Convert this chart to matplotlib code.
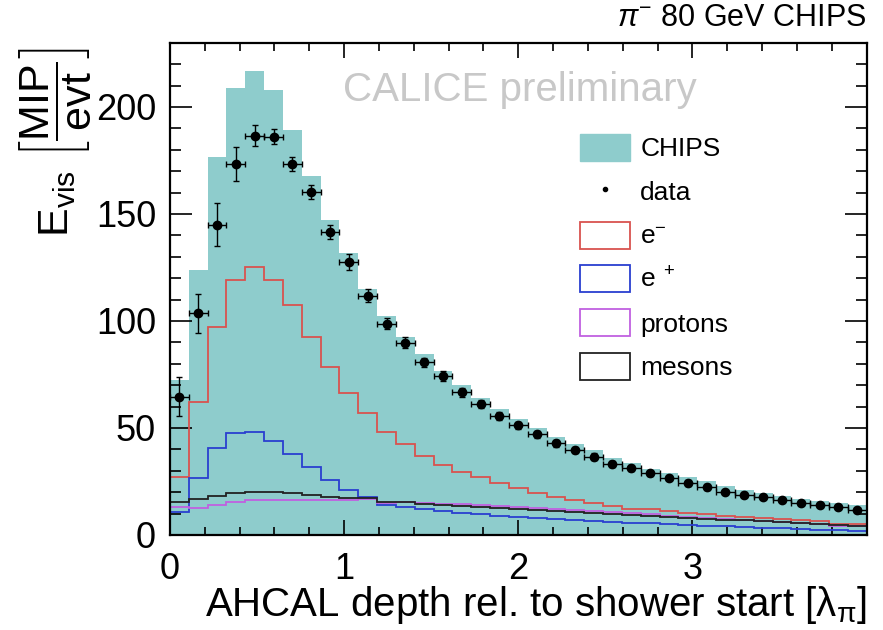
import numpy as np
import matplotlib
matplotlib.use("Agg")
import matplotlib.pyplot as plt
from matplotlib.patches import Patch
from matplotlib.lines import Line2D
from matplotlib.ticker import MultipleLocator

plt.rcParams['font.family'] = ['Liberation Sans', 'DejaVu Sans']
plt.rcParams['mathtext.fontset'] = 'custom'
plt.rcParams['mathtext.rm'] = 'Liberation Sans'
plt.rcParams['mathtext.it'] = 'Liberation Sans:italic'
plt.rcParams['mathtext.bf'] = 'Liberation Sans:bold'

# ---- data ----
n_bins = 37
x_max = 4.0

chips = [72.4, 124, 176.4, 209, 217, 207.8, 189.4, 167.6, 147, 131.8, 115, 102.5,
         92.6, 84.5, 76.5, 70, 64, 59, 54, 50, 46, 42.5, 39.5, 36, 33.5, 31,
         29, 27, 25, 23, 21, 19.5, 18, 16.8, 15.8, 14.8, 14]

data = [64.6, 103.5, 144.9, 173.4, 186.6, 186, 173.4, 160.2, 141.5, 127.5, 111.7, 98.7,
        89.8, 80.6, 74.2, 66.6, 61.2, 55.7, 51.2, 47, 42.8, 39.8, 36.6, 33.2, 31.1, 28.8,
        26.8, 24.3, 22.4, 20.1, 18.8, 17.6, 16.2, 15.1, 14, 12.9, 11.7]

data_err = [9, 9.3, 10, 7.8, 4.8, 3.5, 3.3, 3.1, 3.4, 3.7, 3, 2.6, 2.5, 2.3, 2.2, 2, 2,
            1.9, 1.8, 1.7, 1.6, 1.5, 1.5, 1.4, 1.4, 1.3, 1.3, 1.2, 1.2, 1.1, 1.1, 1.0,
            1.0, 1.0, 0.9, 0.9, 0.9]

electrons = [27.2, 62.2, 97, 119, 125.3, 119, 107.4, 92.6, 78.6, 66.5, 56.8, 48.2,
             42.5, 36.9, 32.7, 29.6, 26.9, 24.1, 21.8, 19.8, 17.9, 16.3, 14.8, 13.5,
             12.3, 12, 11, 10.2, 9.6, 9, 8.6, 8, 7.5, 7, 6.5, 5.2, 5]

positrons = [10.9, 26.5, 40.8, 47.5, 48, 44, 37.7, 31.6, 25.7, 21.2, 17.6, 14,
             13, 12, 11, 10.3, 9.6, 9, 8.4, 7.9, 7.4, 7, 6.6, 6.2, 5.8, 5.4, 5,
             4.6, 4.3, 4, 3.7, 3.4, 3.1, 2.8, 2.5, 2.2, 2]

protons = [12.9, 12.5, 14, 15.5, 16.2, 16.4, 16.4, 16.4, 16.2, 16.2, 16.7, 15.1,
           15.3, 15, 14.7, 14.3, 13.9, 13.5, 13.1, 12.6, 12.1, 11.6, 11.1, 10.6,
           10.1, 9.6, 9.1, 8.6, 8.1, 7.6, 7.1, 6.6, 6.1, 5.6, 5.1, 4.3, 4]

mesons = [15.5, 16.8, 18.2, 19.6, 19.9, 19.9, 19.5, 18.7, 17.9, 17.4, 17.1, 15.6,
          15.2, 14.7, 14.2, 13.7, 13.2, 12.7, 12.2, 11.7, 11.2, 10.7, 10.2, 9.7,
          9.2, 8.8, 8.4, 8, 7.6, 7.2, 6.8, 6.4, 6, 5.6, 5.2, 4.6, 4.2]

x_ticks = [0, 1, 2, 3]
y_ticks = [0, 50, 100, 150, 200]

edges = np.linspace(0, x_max, n_bins + 1)
centers = 0.5 * (edges[:-1] + edges[1:])
half_w = 0.5 * (edges[1] - edges[0])

# ---- styling ----
c_chips = '#8ecccc'
c_red = '#d9534f'
c_blue = '#2a3fd0'
c_purple = '#c060e0'
c_black = '#222222'

fig = plt.figure(figsize=(8.83, 6.30), dpi=100)
ax = fig.add_axes([0.1925, 0.1508, 0.789, 0.7814])

ax.stairs(chips, edges, fill=True, color=c_chips, linewidth=0, zorder=1)
ax.stairs(electrons, edges, color=c_red, linewidth=1.3, zorder=2)
ax.stairs(positrons, edges, color=c_blue, linewidth=1.3, zorder=2)
ax.stairs(protons, edges, color=c_purple, linewidth=1.3, zorder=2)
ax.stairs(mesons, edges, color=c_black, linewidth=1.3, zorder=2)

ax.errorbar(centers, data, yerr=data_err, xerr=half_w, fmt='o', color='black',
            markersize=6, elinewidth=1.0, capsize=2.0, capthick=1.0, zorder=3)

ax.set_xlim(0, x_max)
ax.set_ylim(0, 230)
ax.set_xticks(x_ticks)
ax.set_yticks(y_ticks)
ax.xaxis.set_minor_locator(MultipleLocator(0.2))
ax.yaxis.set_minor_locator(MultipleLocator(10))
ax.tick_params(which='both', direction='in', top=True, right=True, labelsize=26,
               width=1.2, color='black')
ax.tick_params(axis='y', which='major', length=16, pad=10)
ax.tick_params(axis='y', which='minor', length=8)
ax.tick_params(axis='x', which='major', length=11, pad=12)
ax.tick_params(axis='x', which='minor', length=5.5)
for s in ax.spines.values():
    s.set_linewidth(1.6)

ax.set_xlabel('AHCAL depth rel. to shower start [λ$_{\\mathrm{\\pi}}$]', fontsize=29,
              ha='right')
ax.xaxis.set_label_coords(1.0, -0.1)
ax.xaxis.label.set_va('top')
ax.set_ylabel(r'$\mathrm{E}_{\rm vis}\ \left[\dfrac{\rm MIP}{\rm evt}\right]$', fontsize=31,
              ha='right')
ax.yaxis.set_label_coords(-0.11, 0.992)

ax.text(0.502, 0.904, 'CALICE preliminary', transform=ax.transAxes, fontsize=29,
        color='#c8c8c8', ha='center', va='center', zorder=4)

fig.text(0.981, 0.972, r'$\pi^{-}$ 80 GeV CHIPS', fontsize=22, ha='right', va='center')

handles = [
    Patch(facecolor=c_chips, edgecolor=c_chips),
    Line2D([], [], marker='o', color='black', linestyle='none', markersize=3),
    Patch(facecolor='white', edgecolor=c_red, linewidth=1.3),
    Patch(facecolor='white', edgecolor=c_blue, linewidth=1.3),
    Patch(facecolor='white', edgecolor=c_purple, linewidth=1.3),
    Patch(facecolor='white', edgecolor=c_black, linewidth=1.3),
]
labels = ['CHIPS', 'data', r'e$^{-}$', r'e$^{\ +}$', 'protons', 'mesons']
fig.legend(handles, labels, loc='upper left', bbox_to_anchor=(580 / 883, 1 - 134 / 630),
           frameon=False, fontsize=19, handlelength=1.9, handleheight=1.2,
           labelspacing=0.62, handletextpad=0.38, borderpad=0, borderaxespad=0)

fig.savefig('out.png', dpi=100)
